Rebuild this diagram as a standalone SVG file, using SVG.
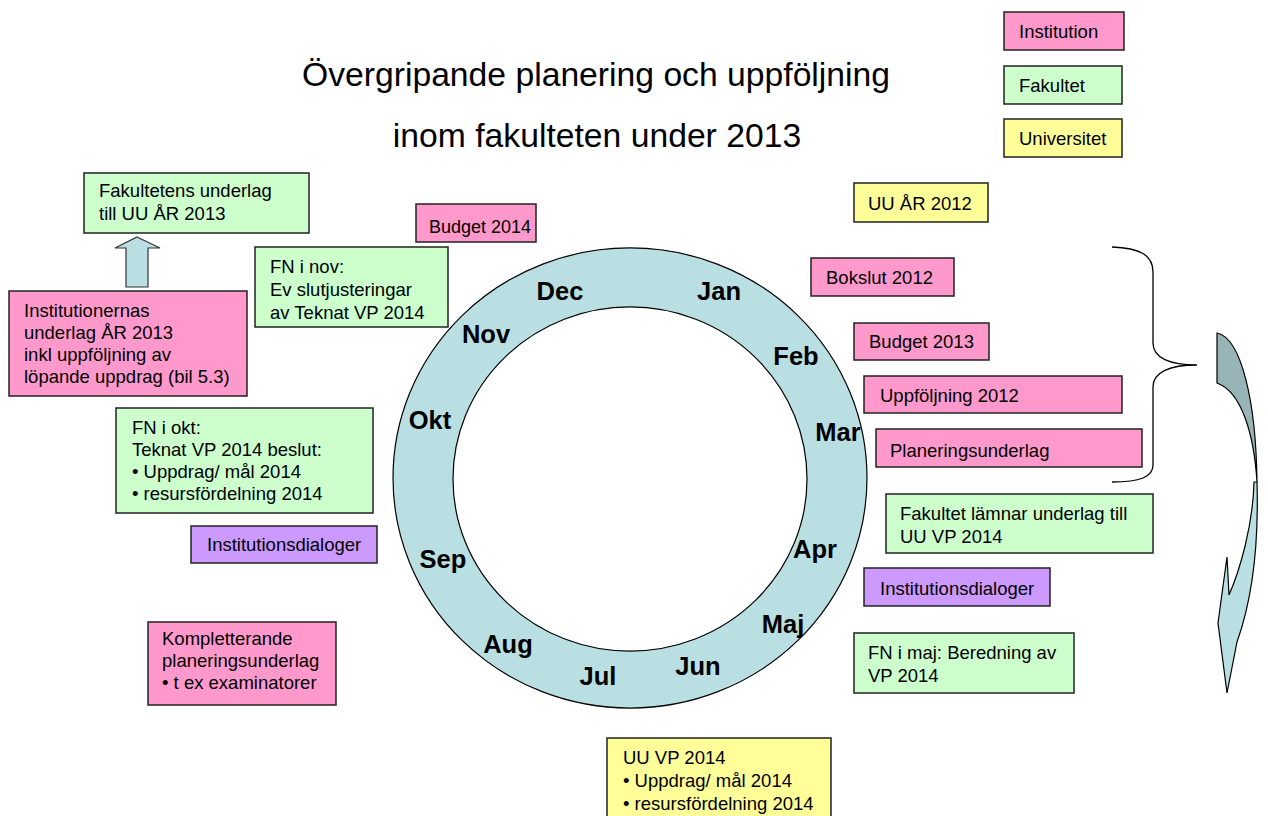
<svg xmlns="http://www.w3.org/2000/svg" width="1268" height="816" viewBox="0 0 1268 816">
<style>
.box{stroke:#222;stroke-width:1.5}
.pink{fill:#FF99CC}.green{fill:#CCFFCC}.yellow{fill:#FFFF99}.purple{fill:#CC99FF}
.t{font-family:"Liberation Sans",Arial,sans-serif;font-size:18.5px;fill:#000}
.m{font-family:"Liberation Sans",Arial,sans-serif;font-size:25.5px;font-weight:bold;fill:#000;text-anchor:middle}
.title{font-family:"Liberation Sans",Arial,sans-serif;font-size:33.7px;fill:#000;text-anchor:middle}
</style>
<rect width="1268" height="816" fill="#fff"/>
<g id="title">
<text class="title" x="596" y="86">Övergripande planering och uppföljning</text>
<text class="title" x="597" y="147">inom fakulteten under 2013</text>
</g>
<g id="legend">
<g id="leg-inst"><rect class="box pink" x="1004" y="12" width="120" height="38"/><text class="t" x="1019" y="38">Institution</text></g>
<g id="leg-fak"><rect class="box green" x="1004" y="66" width="118" height="38"/><text class="t" x="1019" y="92">Fakultet</text></g>
<g id="leg-uni"><rect class="box yellow" x="1004" y="119" width="118" height="38"/><text class="t" x="1019" y="145">Universitet</text></g>
</g>
<g id="ring">
<path d="M393,478 A237,230 0 1,0 867,478 A237,230 0 1,0 393,478 Z M453,479 A177,172 0 1,1 807,479 A177,172 0 1,1 453,479 Z" fill="#B9DFE3" fill-rule="evenodd" stroke="#000" stroke-width="1.2"/>
<text class="m" x="560" y="300">Dec</text>
<text class="m" x="719" y="300">Jan</text>
<text class="m" x="486" y="343">Nov</text>
<text class="m" x="796" y="365">Feb</text>
<text class="m" x="430" y="429">Okt</text>
<text class="m" x="838" y="441">Mar</text>
<text class="m" x="815" y="558">Apr</text>
<text class="m" x="443" y="568">Sep</text>
<text class="m" x="783" y="633">Maj</text>
<text class="m" x="508" y="653">Aug</text>
<text class="m" x="698" y="675">Jun</text>
<text class="m" x="598" y="685">Jul</text>
</g>
<g id="n-fak-underlag"><rect class="box green" x="84" y="173" width="225" height="60"/><text class="t" x="99" y="197">Fakultetens underlag</text><text class="t" x="99" y="220">till UU ÅR 2013</text></g>
<g id="n-inst-underlag"><rect class="box pink" x="9" y="291" width="238" height="105"/><text class="t" x="24" y="317">Institutionernas</text><text class="t" x="24" y="339">underlag ÅR 2013</text><text class="t" x="24" y="361">inkl uppföljning av</text><text class="t" x="24" y="383">löpande uppdrag (bil 5.3)</text></g>
<g id="n-fn-nov"><rect class="box green" x="255" y="247" width="193" height="80"/><text class="t" x="270" y="273">FN i nov:</text><text class="t" x="270" y="296">Ev slutjusteringar</text><text class="t" x="270" y="319">av Teknat VP 2014</text></g>
<g id="n-budget2014"><rect class="box pink" x="416" y="204" width="120" height="38"/><text class="t" x="429" y="233" style="font-size:18px">Budget 2014</text></g>
<g id="n-fn-okt"><rect class="box green" x="116" y="408" width="257" height="105"/><text class="t" x="132" y="434">FN i okt:</text><text class="t" x="132" y="456">Teknat VP 2014 beslut:</text><text class="t" x="132" y="478">• Uppdrag/ mål 2014</text><text class="t" x="132" y="500">• resursfördelning 2014</text></g>
<g id="n-instdial-left"><rect class="box purple" x="191" y="526" width="186" height="37"/><text class="t" x="207" y="551">Institutionsdialoger</text></g>
<g id="n-kompl"><rect class="box pink" x="148" y="622" width="188" height="83"/><text class="t" x="162" y="645">Kompletterande</text><text class="t" x="162" y="667">planeringsunderlag</text><text class="t" x="162" y="689">• t ex examinatorer</text></g>
<g id="n-uu-vp"><rect class="box yellow" x="607" y="738" width="224" height="90"/><text class="t" x="623" y="764">UU VP 2014</text><text class="t" x="623" y="787">• Uppdrag/ mål 2014</text><text class="t" x="623" y="810">• resursfördelning 2014</text></g>
<g id="n-uu-ar2012"><rect class="box yellow" x="854" y="183" width="134" height="39"/><text class="t" x="868" y="210">UU ÅR 2012</text></g>
<g id="n-bokslut"><rect class="box pink" x="811" y="258" width="143" height="38"/><text class="t" x="826" y="284">Bokslut 2012</text></g>
<g id="n-budget2013"><rect class="box pink" x="854" y="323" width="135" height="37"/><text class="t" x="869" y="348">Budget 2013</text></g>
<g id="n-uppfoljning"><rect class="box pink" x="864" y="376" width="258" height="37"/><text class="t" x="880" y="402">Uppföljning 2012</text></g>
<g id="n-planering"><rect class="box pink" x="876" y="429" width="266" height="38"/><text class="t" x="890" y="457">Planeringsunderlag</text></g>
<g id="n-fak-lamnar"><rect class="box green" x="886" y="494" width="267" height="59"/><text class="t" x="900" y="520">Fakultet lämnar underlag till</text><text class="t" x="900" y="543">UU VP 2014</text></g>
<g id="n-instdial-right"><rect class="box purple" x="864" y="568" width="186" height="38"/><text class="t" x="880" y="595">Institutionsdialoger</text></g>
<g id="n-fn-maj"><rect class="box green" x="854" y="633" width="220" height="60"/><text class="t" x="868" y="659">FN i maj: Beredning av</text><text class="t" x="868" y="682">VP 2014</text></g>
<g id="connectors">
<polygon points="137,237 160,248 148,248 148,287 126,287 126,248 115,248" fill="#B9DFE3" stroke="#333" stroke-width="1.2"/>
<path d="M1112,247 C1140,248 1153,255 1153,272 L1153,343 C1153,358 1170,365 1197,365 C1170,365 1153,372 1153,387 L1153,465 C1153,477 1140,482 1112,482" fill="none" stroke="#000" stroke-width="1.3"/>
<path d="M1217,333 C1241,338 1256,400 1257,482 C1254,435 1242,392 1217,383 Z" fill="#97B4B7" stroke="#000" stroke-width="1.2"/>
<path d="M1257,482 C1259,550 1252,600 1237,642 L1227,693 L1218,623 L1227,557 L1229,595 C1240,570 1253,525 1254,482 Z" fill="#B9DFE3" stroke="#000" stroke-width="1.2"/>
</g>
</svg>
